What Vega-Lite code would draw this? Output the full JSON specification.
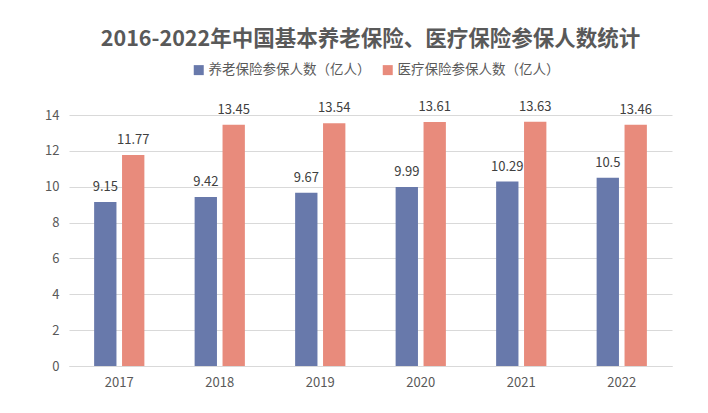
{
  "$schema": "https://vega.github.io/schema/vega-lite/v6.json",
  "width": 603,
  "height": 251,
  "autosize": {"type": "none"},
  "padding": {"left": 69, "top": 115, "right": 36, "bottom": 47},
  "background": "white",
  "title": {
    "text": "2016-2022年中国基本养老保险、医疗保险参保人数统计",
    "font": "Noto Sans CJK SC",
    "fontSize": 21.5,
    "fontWeight": "bold",
    "color": "#595959",
    "anchor": "middle",
    "offset": 13
  },
  "data": {
    "values": [
      {"year": "2017", "series": "养老保险参保人数（亿人）", "value": 9.15},
      {"year": "2017", "series": "医疗保险参保人数（亿人）", "value": 11.77},
      {"year": "2018", "series": "养老保险参保人数（亿人）", "value": 9.42},
      {"year": "2018", "series": "医疗保险参保人数（亿人）", "value": 13.45},
      {"year": "2019", "series": "养老保险参保人数（亿人）", "value": 9.67},
      {"year": "2019", "series": "医疗保险参保人数（亿人）", "value": 13.54},
      {"year": "2020", "series": "养老保险参保人数（亿人）", "value": 9.99},
      {"year": "2020", "series": "医疗保险参保人数（亿人）", "value": 13.61},
      {"year": "2021", "series": "养老保险参保人数（亿人）", "value": 10.29},
      {"year": "2021", "series": "医疗保险参保人数（亿人）", "value": 13.63},
      {"year": "2022", "series": "养老保险参保人数（亿人）", "value": 10.5},
      {"year": "2022", "series": "医疗保险参保人数（亿人）", "value": 13.46}
    ]
  },
  "encoding": {
    "x": {
      "field": "year",
      "type": "nominal",
      "scale": {"paddingInner": 0.5, "paddingOuter": 0.25},
      "axis": {
        "title": null,
        "labelAngle": 0,
        "labelFont": "Noto Sans CJK SC",
        "labelFontSize": 13,
        "labelColor": "#595959",
        "labelPadding": 10,
        "ticks": false,
        "domainColor": "#d9d9d9",
        "domainWidth": 1
      }
    },
    "xOffset": {
      "field": "series",
      "type": "nominal",
      "sort": ["养老保险参保人数（亿人）", "医疗保险参保人数（亿人）"],
      "scale": {"paddingInner": 0.2, "paddingOuter": 0}
    },
    "y": {
      "field": "value",
      "type": "quantitative",
      "scale": {"domain": [0, 14], "nice": false},
      "axis": {
        "title": null,
        "values": [0, 2, 4, 6, 8, 10, 12, 14],
        "labelFont": "Noto Sans CJK SC",
        "labelFontSize": 13,
        "labelColor": "#595959",
        "labelPadding": 10,
        "ticks": false,
        "domain": false,
        "gridColor": "#d9d9d9",
        "gridWidth": 1
      }
    }
  },
  "layer": [
    {
      "mark": {"type": "bar"},
      "encoding": {
        "color": {
          "field": "series",
          "type": "nominal",
          "sort": ["养老保险参保人数（亿人）", "医疗保险参保人数（亿人）"],
          "scale": {"range": ["#6879ab", "#e88b7c"]},
          "legend": {
            "title": null,
            "orient": "none",
            "legendX": 123,
            "legendY": -52,
            "direction": "horizontal",
            "symbolType": "square",
            "symbolSize": 100,
            "symbolStrokeWidth": 0,
            "labelFont": "Noto Sans CJK SC",
            "labelFontSize": 13.5,
            "labelColor": "#595959",
            "labelOffset": 3,
            "labelLimit": 300,
            "columnPadding": 10
          }
        }
      }
    },
    {
      "mark": {
        "type": "text",
        "baseline": "bottom",
        "dy": -8,
        "font": "Noto Sans CJK SC",
        "fontSize": 13,
        "color": "#404040"
      },
      "encoding": {
        "text": {"field": "value", "type": "quantitative"}
      }
    }
  ],
  "config": {"view": {"stroke": null}}
}
